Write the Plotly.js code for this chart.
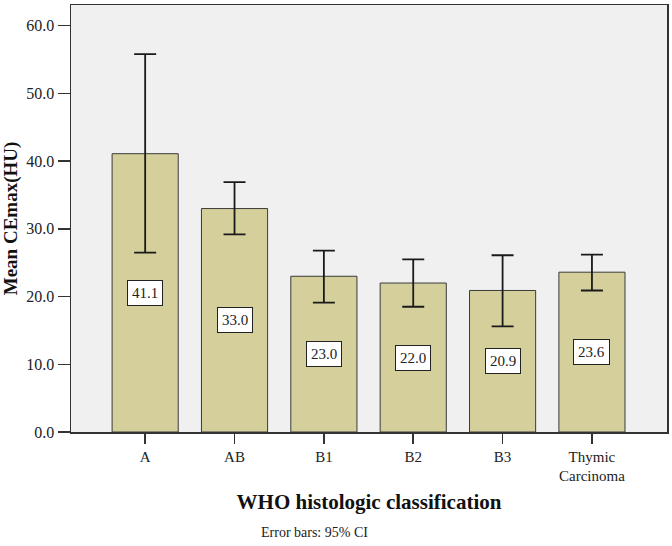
<!DOCTYPE html>
<html>
<head>
<meta charset="utf-8">
<script src="https://cdn.plot.ly/plotly-3.0.1.min.js"></script>
<style>html,body{margin:0;padding:0;background:#fff;}#chart{width:672px;height:546px;}</style>
</head>
<body>
<div id="chart"></div>
<script>
const categories = ["A", "AB", "B1", "B2", "B3", "Thymic<br>Carcinoma"];
const means = [41.1, 33.0, 23.0, 22.0, 20.9, 23.6];
const ciUpper = [55.8, 36.9, 26.8, 25.5, 26.1, 26.2];
const ciLower = [26.5, 29.2, 19.1, 18.5, 15.6, 20.9];
const yTickVals = [0, 10, 20, 30, 40, 50, 60];

const errPlus = means.map((m, i) => ciUpper[i] - m);
const errMinus = means.map((m, i) => m - ciLower[i]);

const trace = {
  type: 'bar',
  x: categories,
  y: means,
  marker: { color: '#D4CF9B', line: { color: '#3a3a3a', width: 1 } },
  error_y: {
    type: 'data', symmetric: false,
    array: errPlus, arrayminus: errMinus,
    color: '#1a1a1a', thickness: 1.8, width: 11
  },
  hoverinfo: 'none'
};

const labelAnns = categories.map((c, i) => ({
  x: c, y: means[i] / 2, xref: 'x', yref: 'y',
  text: means[i].toFixed(1), showarrow: false,
  bgcolor: '#ffffff', bordercolor: '#222', borderwidth: 1, borderpad: 4,
  font: { family: 'Liberation Serif, Times New Roman, serif', size: 15, color: '#222' }
}));

const layout = {
  width: 672, height: 546,
  margin: { l: 71, r: 5, t: 5, b: 114 },
  paper_bgcolor: '#ffffff',
  plot_bgcolor: '#F0F0F0',
  bargap: 0.26,
  showlegend: false,
  font: { family: 'Liberation Serif, Times New Roman, serif', color: '#222' },
  xaxis: {
    type: 'category',
    range: [-0.83, 5.84],
    showline: true, mirror: true, linecolor: '#333', linewidth: 1.5,
    ticks: 'outside', ticklen: 10, tickwidth: 1.5, tickcolor: '#333',
    tickfont: { family: 'Liberation Serif, Times New Roman, serif', size: 15, color: '#222' },
    showgrid: false, zeroline: false,
    title: { text: '<b>WHO histologic classification</b>', standoff: 11,
      font: { family: 'Liberation Serif, Times New Roman, serif', size: 21, color: '#111' } }
  },
  yaxis: {
    range: [0, 63.06],
    tickvals: yTickVals,
    ticktext: yTickVals.map(v => v.toFixed(1)),
    showline: true, mirror: true, linecolor: '#333', linewidth: 1.5,
    ticks: 'outside', ticklen: 12, tickwidth: 1.5, tickcolor: '#333',
    tickfont: { family: 'Liberation Serif, Times New Roman, serif', size: 16, color: '#222' },
    showgrid: false, zeroline: false,
    title: { text: '<b>Mean CEmax(HU)</b>', standoff: 8,
      font: { family: 'Liberation Serif, Times New Roman, serif', size: 19, color: '#111' } }
  },
  annotations: labelAnns.concat([{
    xref: 'paper', yref: 'paper', x: 0.4086, y: -0.2365,
    xanchor: 'center', yanchor: 'middle', showarrow: false,
    text: 'Error bars: 95% CI',
    font: { family: 'Liberation Serif, Times New Roman, serif', size: 14, color: '#222' }
  }])
};

Plotly.newPlot('chart', [trace], layout, { staticPlot: true, displayModeBar: false });
</script>
</body>
</html>
